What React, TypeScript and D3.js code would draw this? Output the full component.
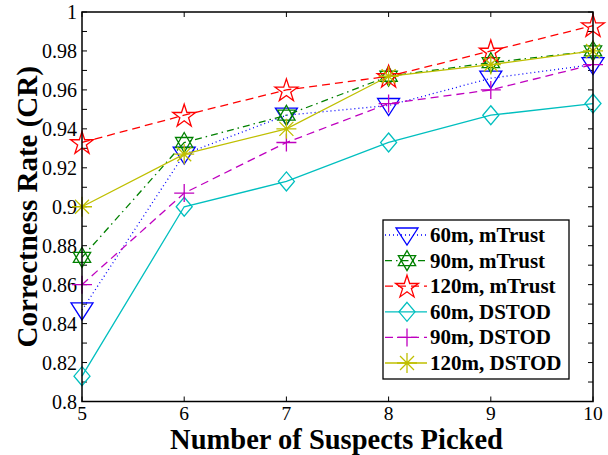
import React from 'react';
import * as d3 from 'd3';

const xValues = [5, 6, 7, 8, 9, 10];
const mTrust60 = [0.847, 0.927, 0.947, 0.952, 0.966, 0.973];
const mTrust90 = [0.874, 0.933, 0.947, 0.967, 0.974, 0.98];
const mTrust120 = [0.933, 0.947, 0.96, 0.967, 0.98, 0.993];
const dstod60 = [0.813, 0.9, 0.913, 0.933, 0.947, 0.953];
const dstod90 = [0.86, 0.907, 0.933, 0.953, 0.96, 0.973];
const dstod120 = [0.9, 0.927, 0.94, 0.967, 0.973, 0.98];
const seriesNames = ['60m, mTrust', '90m, mTrust', '120m, mTrust', '60m, DSTOD', '90m, DSTOD', '120m, DSTOD'];
const xTicks = [5, 6, 7, 8, 9, 10];
const yTicks = [0.8, 0.82, 0.84, 0.86, 0.88, 0.9, 0.92, 0.94, 0.96, 0.98, 1];
const yMinorTicks = d3.range(0, 21).map((i) => 0.8 + i * 0.01);
const xLabel = 'Number of Suspects Picked';
const yLabel = 'Correctness Rate (CR)';

const W = 608;
const H = 455;
const M = { left: 82, right: 593, top: 12, bottom: 401.5 };

const triDown = 'M-11,-7L11,-7L0,10Z';
const hexagram = (() => {
  const r = 10;
  const pts = (a0: number) =>
    [0, 1, 2].map((k) => {
      const a = ((a0 + k * 120) * Math.PI) / 180;
      return [r * Math.cos(a), r * Math.sin(a)];
    });
  const t1 = pts(-90);
  const t2 = pts(90);
  return (
    'M' + t1.map((p) => p.join(',')).join('L') + 'Z' +
    'M' + t2.map((p) => p.join(',')).join('L') + 'Z'
  );
})();
const pentagram = (() => {
  const R = 12;
  const r = R * 0.382;
  const p: string[] = [];
  for (let i = 0; i < 10; i++) {
    const a = ((-90 + i * 36) * Math.PI) / 180;
    const rr = i % 2 === 0 ? R : r;
    p.push(`${(rr * Math.cos(a)).toFixed(2)},${(rr * Math.sin(a) + 1).toFixed(2)}`);
  }
  return 'M' + p.join('L') + 'Z';
})();
const diamond = 'M0,-9.5L8,0L0,9.5L-8,0Z';
const plus = 'M-10,0H10M0,-9V9';
const asterisk = 'M-10,0H10M0,-10V10M-7,-7L7,7M-7,7L7,-7';

const seriesValues = [mTrust60, mTrust90, mTrust120, dstod60, dstod90, dstod120];
const seriesColors = ['#0000ff', '#008000', '#ff0000', '#00bfbf', '#bf00bf', '#bfbf00'];
const seriesDash = ['1,3', '7,4,1.5,4', '8,5', 'none', '8,5', 'none'];
const seriesMarkers = [triDown, hexagram, pentagram, diamond, plus, asterisk];

export default function App() {
  const x = d3.scaleLinear().domain([5, 10]).range([M.left, M.right]);
  const y = d3.scaleLinear().domain([0.8, 1]).range([M.bottom, M.top]);
  const line = d3
    .line<number>()
    .x((_, i) => x(xValues[i]))
    .y((d) => y(d));
  const fontStyle = { fontFamily: 'Liberation Serif, Times New Roman, serif' };
  const legX = 383;
  const legY = 220;
  const legW = 186;
  const legH = 159;
  const rowY = (i: number) => legY + 15 + i * 25.6;

  return (
    <>
      <style>{`body{margin:0}`}</style>
      <svg width={W} height={H} style={{ display: 'block', background: '#fff', ...fontStyle }}>
        <rect x={0} y={0} width={W} height={H} fill="#fff" />
        {/* ticks */}
        {yMinorTicks.map((t, i) => (
          <g key={'yt' + i} stroke="#000" strokeWidth={1}>
            <line x1={M.left} x2={M.left + 5} y1={y(t)} y2={y(t)} />
            <line x1={M.right} x2={M.right - 5} y1={y(t)} y2={y(t)} />
          </g>
        ))}
        {xTicks.map((t, i) => (
          <g key={'xt' + i} stroke="#000" strokeWidth={1}>
            <line x1={x(t)} x2={x(t)} y1={M.bottom} y2={M.bottom - 5} />
            <line x1={x(t)} x2={x(t)} y1={M.top} y2={M.top + 5} />
          </g>
        ))}
        {yTicks.map((t, i) => (
          <text key={'yl' + i} x={M.left - 5} y={y(t)} textAnchor="end" dominantBaseline="central" fontSize={20} style={fontStyle}>
            {String(+t.toFixed(2))}
          </text>
        ))}
        {xTicks.map((t, i) => (
          <text key={'xl' + i} x={x(t)} y={420} textAnchor="middle" fontSize={19.5} style={fontStyle}>
            {t}
          </text>
        ))}
        {/* series */}
        {seriesValues.map((vals, si) => (
          <g key={'s' + si}>
            <path
              d={line(vals) || ''}
              fill="none"
              stroke={seriesColors[si]}
              strokeWidth={1.3}
              strokeDasharray={seriesDash[si]}
            />
            {vals.map((v, i) => (
              <path
                key={i}
                d={seriesMarkers[si]}
                transform={`translate(${x(xValues[i])},${y(v)})`}
                fill="none"
                stroke={seriesColors[si]}
                strokeWidth={1.3}
              />
            ))}
          </g>
        ))}
        {/* axes box */}
        <rect
          x={M.left}
          y={M.top}
          width={M.right - M.left}
          height={M.bottom - M.top}
          fill="none"
          stroke="#000"
          strokeWidth={1.5}
        />
        {/* legend */}
        <rect x={legX} y={legY} width={legW} height={legH} fill="#fff" stroke="#000" strokeWidth={1.3} />
        {seriesNames.map((name, si) => (
          <g key={'lg' + si}>
            <line
              x1={legX + 2}
              x2={legX + 44}
              y1={rowY(si)}
              y2={rowY(si)}
              stroke={seriesColors[si]}
              strokeWidth={1.3}
              strokeDasharray={seriesDash[si]}
            />
            <path
              d={seriesMarkers[si]}
              transform={`translate(${legX + 24},${rowY(si)})`}
              fill="none"
              stroke={seriesColors[si]}
              strokeWidth={1.3}
            />
            <text x={legX + 47} y={rowY(si)} dominantBaseline="central" fontSize={21} fontWeight="bold" style={fontStyle}>
              {name}
            </text>
          </g>
        ))}
        {/* axis labels */}
        <text x={(M.left + M.right) / 2 - 1} y={449} textAnchor="middle" fontSize={28.5} fontWeight="bold" style={fontStyle}>
          {xLabel}
        </text>
        <text
          transform={`translate(37,${(M.top + M.bottom) / 2}) rotate(-90)`}
          textAnchor="middle"
          fontSize={29}
          fontWeight="bold"
          style={fontStyle}
        >
          {yLabel}
        </text>
      </svg>
    </>
  );
}
